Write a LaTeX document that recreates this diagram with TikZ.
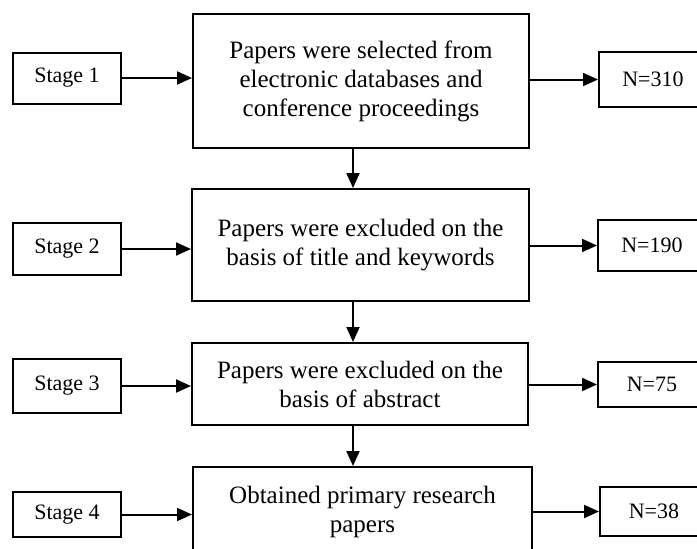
\documentclass[tikz,border=0pt]{standalone}
\usepackage{fontspec}
\setmainfont{Liberation Serif}
\usetikzlibrary{arrows.meta}
\begin{document}
\begin{tikzpicture}[x=1pt,y=-1pt,
  every node/.style={inner sep=0pt},
  stagebox/.style={draw,line width=2pt,minimum width=108pt,font=\fontsize{22}{26}\selectfont},
  mainbox/.style={draw,line width=2pt,align=center,font=\fontsize{25}{29}\selectfont},
  numbox/.style={draw,line width=2pt,minimum width=108pt,font=\fontsize{22}{26}\selectfont},
  conn/.style={line width=2pt,-{Triangle[length=15pt,width=13pt]}}]
\useasboundingbox (0,0) rectangle (697,549);
\clip (0,0) rectangle (697,549);
% main boxes
\node[mainbox,minimum width=336pt,minimum height=134pt] (b1) at (361,81) {Papers were selected from\\electronic databases and\\conference proceedings};
\node[mainbox,minimum width=337pt,minimum height=112pt] (b2) at (360.5,245) {Papers were excluded on the\\basis of title and keywords};
\node[mainbox,minimum width=336pt,minimum height=82pt] (b3) at (360,384) {Papers were excluded on the\\basis of abstract};
\node[mainbox,minimum width=339pt,minimum height=90pt] (b4) at (362.5,512) {Obtained primary research\\papers};
% stage boxes
\node[stagebox,minimum height=51pt] (s1) at (67,78) {Stage 1};
\node[stagebox,minimum height=52pt] (s2) at (67,249) {Stage 2};
\node[stagebox,minimum height=54pt] (s3) at (67,386) {Stage 3};
\node[stagebox,minimum height=45pt] (s4) at (67,514.5) {Stage 4};
% number boxes
\node[numbox,minimum height=55pt] (n1) at (653,79.5) {N=310};
\node[numbox,minimum height=51pt] (n2) at (652,245.5) {N=190};
\node[numbox,minimum height=45pt] (n3) at (652,384.5) {N=75};
\node[numbox,minimum height=49pt] (n4) at (654,511.5) {N=38};
% connectors
\coordinate (ax) at (353,0);
\foreach \i in {1,2,3,4}{
  \draw[conn] (s\i.east) -- (s\i.east -| b\i.west);
  \draw[conn] (n\i.west -| b\i.east) -- (n\i.west);
}
\draw[conn] (b1.south -| ax) -- (b2.north -| ax);
\draw[conn] (b2.south -| ax) -- (b3.north -| ax);
\draw[conn] (b3.south -| ax) -- (b4.north -| ax);
\end{tikzpicture}
\end{document}
